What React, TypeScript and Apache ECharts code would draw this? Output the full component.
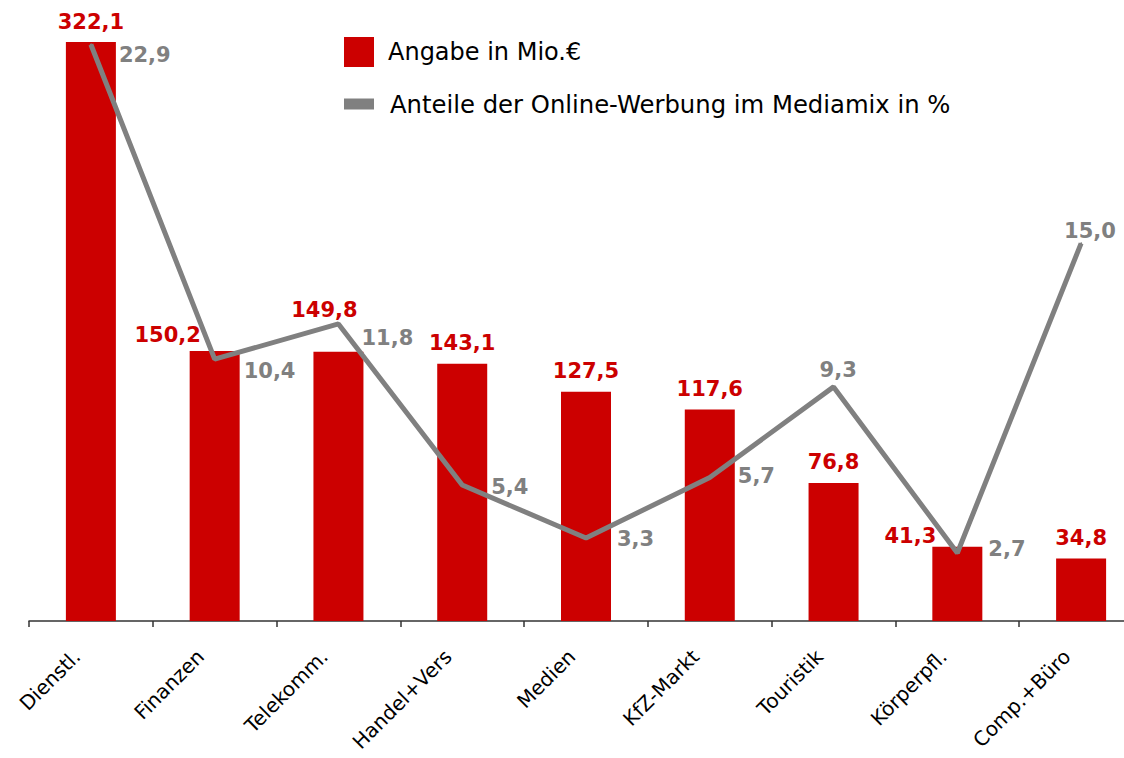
import React, { useEffect, useRef } from "react";
import * as echarts from "echarts";

const categories = [
  "Dienstl.",
  "Finanzen",
  "Telekomm.",
  "Handel+Vers",
  "Medien",
  "KfZ-Markt",
  "Touristik",
  "Körperpfl.",
  "Comp.+Büro",
];
const spendValues = [322.1, 150.2, 149.8, 143.1, 127.5, 117.6, 76.8, 41.3, 34.8];
const shareValues = [22.9, 10.4, 11.8, 5.4, 3.3, 5.7, 9.3, 2.7, 15.0];

const spendName = "Angabe in Mio.€";
const shareName = "Anteile der Online-Werbung im Mediamix in %";

// label offsets (style only)
const barLabelOffsets: [number, number][] = [
  [0, 0], [-47, 4], [-14, -21], [0, 0], [0, 0], [0, 0], [0, 0], [-47, 10], [0, 0],
];
const lineLabelOffsets: [number, number][] = [
  [27, 10], [28, 12], [22, 14], [28, 2], [30, 1], [27, -2], [-15, -17], [30, -4], [-18, -12],
];

const fmt = (v: number) => v.toFixed(1).replace(".", ",");

export default function App() {
  const ref = useRef<HTMLDivElement>(null);
  useEffect(() => {
    document.body.style.margin = "0";
    document.body.style.overflow = "hidden";
    if (!ref.current) return;
    const chart = echarts.init(ref.current, undefined, { renderer: "svg" });
    const labelFont = { fontFamily: "DejaVu Sans", fontWeight: "bold" as const, fontSize: 21 };
    chart.setOption({
      animation: false,
      backgroundColor: "#ffffff",
      grid: { left: 29, right: 0, top: 42, bottom: 137 },
      legend: [
        {
          data: [spendName],
          left: 344,
          top: 37,
          itemWidth: 30,
          itemHeight: 30,
          itemGap: 10,
          icon: "rect",
          textStyle: { fontFamily: "DejaVu Sans", fontSize: 24, color: "#000", padding: [0, 0, 0, 9] },
          padding: 0,
        },
        {
          data: [shareName],
          left: 344,
          top: 92,
          itemWidth: 30,
          itemHeight: 11,
          icon: "rect",
          textStyle: { fontFamily: "DejaVu Sans", fontSize: 24.3, color: "#000", padding: [0, 0, 0, 11] },
          padding: 0,
        },
      ],
      xAxis: {
        type: "category",
        data: categories,
        axisLine: { lineStyle: { color: "#333", width: 1.5 } },
        axisTick: { show: true, length: 6, lineStyle: { color: "#333", width: 1.5 } },
        axisLabel: {
          rotate: 45,
          interval: 0,
          margin: 18,
          color: "#000",
          fontFamily: "DejaVu Sans",
          fontSize: 20,
          padding: [0, 20, 0, 0],
        },
      },
      yAxis: [
        { type: "value", min: 0, max: 322.1, show: false, splitLine: { show: false } },
        { type: "value", min: 0, max: 23, show: false, splitLine: { show: false } },
      ],
      series: [
        {
          name: spendName,
          type: "bar",
          yAxisIndex: 0,
          barWidth: 50,
          itemStyle: { color: "#cc0000" },
          data: spendValues.map((v, i) => ({
            value: v,
            label: { offset: barLabelOffsets[i] },
          })),
          label: {
            show: true,
            position: "top",
            distance: 10,
            color: "#cc0000",
            ...labelFont,
            formatter: (p: any) => fmt(p.value),
          },
          z: 1,
        },
        {
          name: shareName,
          type: "line",
          yAxisIndex: 1,
          symbol: "circle",
          symbolSize: 2,
          itemStyle: { color: "#808080" },
          lineStyle: { color: "#808080", width: 5 },
          data: shareValues.map((v, i) => ({
            value: v,
            label: { offset: lineLabelOffsets[i] },
          })),
          label: {
            show: true,
            position: "right",
            distance: 0,
            color: "#808080",
            ...labelFont,
            formatter: (p: any) => fmt(p.value),
          },
          z: 2,
        },
      ],
    });
    return () => chart.dispose();
  }, []);
  return (
    <div style={{ width: 1124, height: 758, overflow: "hidden", position: "relative" }}>
      <div ref={ref} style={{ width: 1143, height: 758 }} />
    </div>
  );
}
